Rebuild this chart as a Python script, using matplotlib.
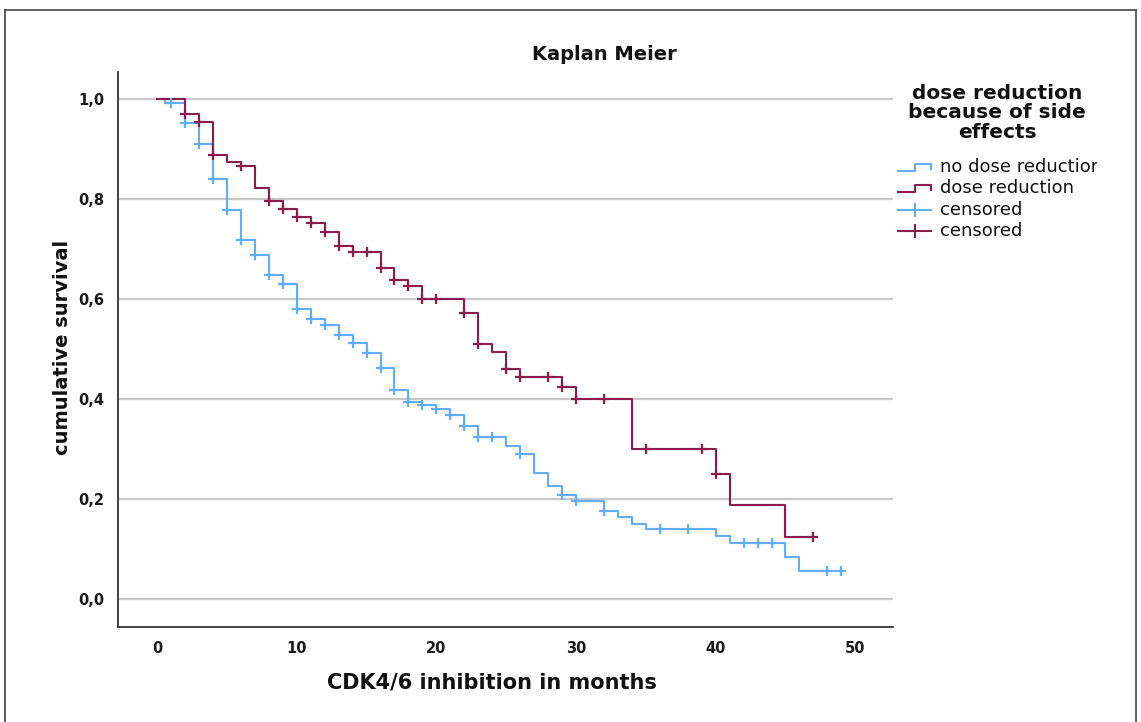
import numpy as np
import matplotlib
matplotlib.use("Agg")
import matplotlib.pyplot as plt
from matplotlib.lines import Line2D
from matplotlib.transforms import Bbox

# ---------------- data ----------------
no_red_times = [0, 0.6, 2, 3, 4, 5, 6, 7, 8, 9, 10, 11, 12, 13, 14, 15, 16, 17, 18, 19, 20,
                21, 22, 23, 25, 26, 27, 28, 29, 30, 32, 33, 34, 35, 40, 41, 45, 46]
no_red_surv = [1.0, 0.993, 0.953, 0.911, 0.841, 0.778, 0.719, 0.688, 0.649, 0.630, 0.581,
               0.561, 0.548, 0.528, 0.513, 0.493, 0.463, 0.419, 0.394, 0.388, 0.381,
               0.369, 0.347, 0.325, 0.307, 0.290, 0.253, 0.227, 0.208, 0.197, 0.176,
               0.165, 0.151, 0.140, 0.127, 0.113, 0.085, 0.057]
no_red_end = 49
no_red_censored = [1, 2, 3, 4, 5, 6, 7, 8, 9, 10, 11, 12, 13, 14, 15, 16, 17, 18, 19, 20, 21,
                   22, 23, 24, 26, 29, 30, 32, 36, 38, 42, 43, 44, 48, 49]

red_times = [0, 2, 3, 4, 5, 6, 7, 8, 9, 10, 11, 12, 13, 14, 16, 17, 18, 19, 22, 23, 24, 25,
             26, 29, 30, 34, 40, 41, 45]
red_surv = [1.0, 0.970, 0.955, 0.888, 0.875, 0.866, 0.823, 0.797, 0.781, 0.765, 0.753,
            0.735, 0.706, 0.695, 0.663, 0.639, 0.626, 0.600, 0.572, 0.511, 0.495, 0.461,
            0.445, 0.425, 0.400, 0.300, 0.250, 0.188, 0.125]
red_end = 47
red_censored = [2, 3, 4, 6, 8, 9, 10, 11, 12, 13, 14, 15, 16, 17, 18, 19, 20, 22, 23, 25,
                26, 28, 29, 30, 32, 35, 39, 40, 47]

group_labels = ["no dose reduction", "dose reduction", "censored", "censored"]
legend_title = "dose reduction\nbecause of side\neffects"
title = "Kaplan Meier"
xlabel = "CDK4/6 inhibition in months"
ylabel = "cumulative survival"
xticks = [0, 10, 20, 30, 40, 50]
yticks = [0.0, 0.2, 0.4, 0.6, 0.8, 1.0]

BLUE = "#62adf8"
PURPLE = "#8a1d4c"

W, H = 1141, 722
fig = plt.figure(figsize=(W / 100, H / 100), dpi=100)
ax = fig.add_axes([118 / W, 1 - 627 / H, (893 - 118) / W, (627 - 72) / H])

def fx(px):
    return px / W

def fy(py):
    return 1 - py / H

def draw_group(times, surv, end, cens, color):
    t = list(times) + [end]
    s = list(surv) + [surv[-1]]
    ax.step(t, s, where="post", color=color, lw=1.5, zorder=3)
    idx = np.searchsorted(np.array(times), np.array(cens), side="right") - 1
    cy = np.array(surv)[idx]
    ax.plot(cens, cy, linestyle="none", marker="+", markersize=7, mew=1.6,
            color=color, zorder=4)

draw_group(no_red_times, no_red_surv, no_red_end, no_red_censored, BLUE)
draw_group(red_times, red_surv, red_end, red_censored, PURPLE)

ax.set_xlim(-2.8, 52.7)
ax.set_ylim(-0.056, 1.055)
ax.set_xticks(xticks)
ax.set_xticklabels([str(v) for v in xticks])
ax.set_yticks(yticks)
ax.set_yticklabels([f"{v:.1f}".replace(".", ",") for v in yticks])
ax.tick_params(length=0, pad=10, labelsize=10.5, colors="#1a1a1a")
for lab in ax.get_xticklabels() + ax.get_yticklabels():
    lab.set_fontweight("bold")
ax.grid(axis="y", color="#c8c8c8", lw=1.6, zorder=1)
ax.set_axisbelow(True)
for sp in ["top", "right"]:
    ax.spines[sp].set_visible(False)
for sp in ["left", "bottom"]:
    ax.spines[sp].set_color("#333333")
    ax.spines[sp].set_linewidth(1.3)

# texts
fig.text(fx(604), fy(55), title, ha="center", va="center", fontsize=14,
         fontweight="bold", color="#111111")
fig.text(fx(492), fy(683), xlabel, ha="center", va="center", fontsize=15,
         fontweight="bold", color="#111111")
fig.text(fx(62), fy(347), ylabel, ha="center", va="center", fontsize=14,
         fontweight="bold", rotation=90, color="#111111")

# legend (drawn manually in figure coordinates)
fig.text(fx(997), fy(113), legend_title, ha="center", va="center", fontsize=14.5,
         fontweight="bold", linespacing=1.05, color="#111111")
leg_rows = [167, 188, 210, 231]
colors = [BLUE, PURPLE, BLUE, PURPLE]
clip = Bbox.from_extents(0, 0, 1097, H)
for i, (row, lab, col) in enumerate(zip(leg_rows, group_labels, colors)):
    if i < 2:
        xs = [fx(898), fx(915), fx(915), fx(931), fx(931)]
        ys = [fy(row + 4), fy(row + 4), fy(row - 3), fy(row - 3), fy(row + 2)]
        fig.add_artist(Line2D(xs, ys, color=col, lw=1.5))
    else:
        fig.add_artist(Line2D([fx(898), fx(931)], [fy(row), fy(row)], color=col, lw=1.5))
        fig.add_artist(Line2D([fx(915), fx(915)], [fy(row - 6), fy(row + 6)], color=col, lw=1.5))
    t = fig.text(fx(940), fy(row), lab, ha="left", va="center", fontsize=13,
                 color="#111111")
    t.set_clip_box(clip)
    t.set_clip_on(True)

# frame around the figure
frame_col = "#444444"
fig.add_artist(Line2D([fx(5), fx(1136)], [fy(10), fy(10)], color=frame_col, lw=1.2))
fig.add_artist(Line2D([fx(5), fx(5)], [fy(10), 0], color=frame_col, lw=1.2))
fig.add_artist(Line2D([fx(1136), fx(1136)], [fy(10), 0], color=frame_col, lw=1.2))

fig.savefig("out.png", dpi=100)
